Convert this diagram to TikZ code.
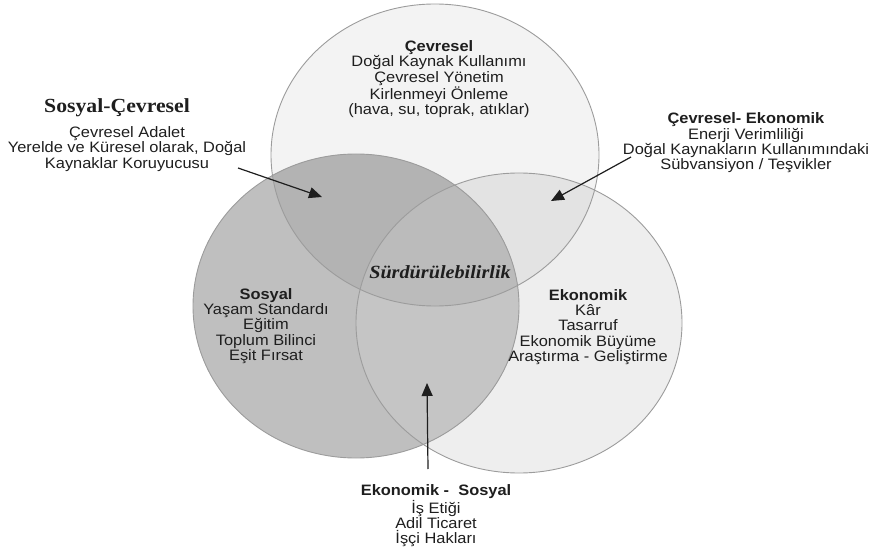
\documentclass[tikz,border=0pt]{standalone}
\usepackage{fontspec}
\setmainfont{Liberation Sans}[FakeStretch=1.086]
\newfontfamily\serifb{Liberation Serif}[FakeStretch=1.086]
\usetikzlibrary{arrows.meta}
\definecolor{topc}{HTML}{F3F3F3}
\definecolor{rightc}{HTML}{EEEEEE}
\definecolor{leftc}{HTML}{BFBFBF}
\definecolor{trc}{HTML}{E3E3E3}
\definecolor{tlc}{HTML}{B3B3B3}
\definecolor{lrc}{HTML}{C5C5C5}
\definecolor{cenc}{HTML}{BBBBBB}
\definecolor{edgec}{HTML}{9C9C9C}
\definecolor{txt}{HTML}{1E1E1E}
\tikzset{
  txtblock/.style={align=center,inner sep=0pt,text=txt,font=\fontsize{15.1}{15.4}\selectfont},
  sertitle/.style={inner sep=0pt,text=txt,font=\serifb\bfseries\fontsize{20}{22}\selectfont},
  centre/.style={inner sep=0pt,text=txt,font=\serifb\bfseries\itshape\fontsize{18.6}{20}\selectfont},
  arr/.style={draw=txt,line width=1.2pt,-{Triangle[length=13pt,width=11pt]}},
  rim/.style={draw=edgec,line width=0.9pt}
}
\begin{document}
\begin{tikzpicture}[x=1pt,y=-1pt]
\useasboundingbox (0,0) rectangle (875,553);
\def\topE{(435,155) ellipse [x radius=164, y radius=151]}
\def\leftE{(356,306) ellipse [x radius=163, y radius=152]}
\def\rightE{(519,323) ellipse [x radius=163, y radius=150]}
% base fills
\fill[topc] \topE;
\fill[rightc] \rightE;
\fill[leftc] \leftE;
% overlaps
\begin{scope}\clip \topE; \fill[trc] \rightE; \fill[tlc] \leftE; \end{scope}
\begin{scope}\clip \leftE; \fill[lrc] \rightE; \end{scope}
\begin{scope}\clip \topE; \clip \leftE; \fill[cenc] \rightE; \end{scope}
% rims
\draw[rim] \topE;
\draw[rim] \leftE;
\draw[rim] \rightE;
% texts
\node[txtblock] (cev) at (439,79) {\textbf{Çevresel}\\Doğal Kaynak Kullanımı\\Çevresel Yönetim\\Kirlenmeyi Önleme\\(hava, su, toprak, atıklar)};
\node[sertitle] (sct) at (117,108) {Sosyal-Çevresel};
\node[txtblock] (scb) at (127,149) {Çevresel Adalet\\Yerelde ve Küresel olarak, Doğal\\Kaynaklar Koruyucusu};
\node[txtblock] (ce) at (746,143) {\textbf{Çevresel- Ekonomik}\\Enerji Verimliliği\\Doğal Kaynakların Kullanımındaki\\Sübvansiyon / Teşvikler};
\node[centre] (sur) at (440,272) {Sürdürülebilirlik};
\node[txtblock] (sos) at (266,326) {\textbf{Sosyal}\\Yaşam Standardı\\Eğitim\\Toplum Bilinci\\Eşit Fırsat};
\node[txtblock] (eko) at (588,327) {\textbf{Ekonomik}\\Kâr\\Tasarruf\\Ekonomik Büyüme\\Araştırma - Geliştirme};
\node[txtblock] (es) at (436,516) {\textbf{Ekonomik -~\ Sosyal}\\İş Etiği\\Adil Ticaret\\İşçi Hakları};
% arrows
\coordinate (a1s) at (238,168);
\coordinate (a1e) at (322,197);
\coordinate (a2s) at (631,157);
\coordinate (a2e) at (551,201);
\coordinate (a3s) at (428,469);
\coordinate (a3e) at (427,383);
\draw[arr] (a1s) -- (a1e);
\draw[arr] (a2s) -- (a2e);
\draw[arr] (a3s) -- (a3e);
\end{tikzpicture}
\end{document}
